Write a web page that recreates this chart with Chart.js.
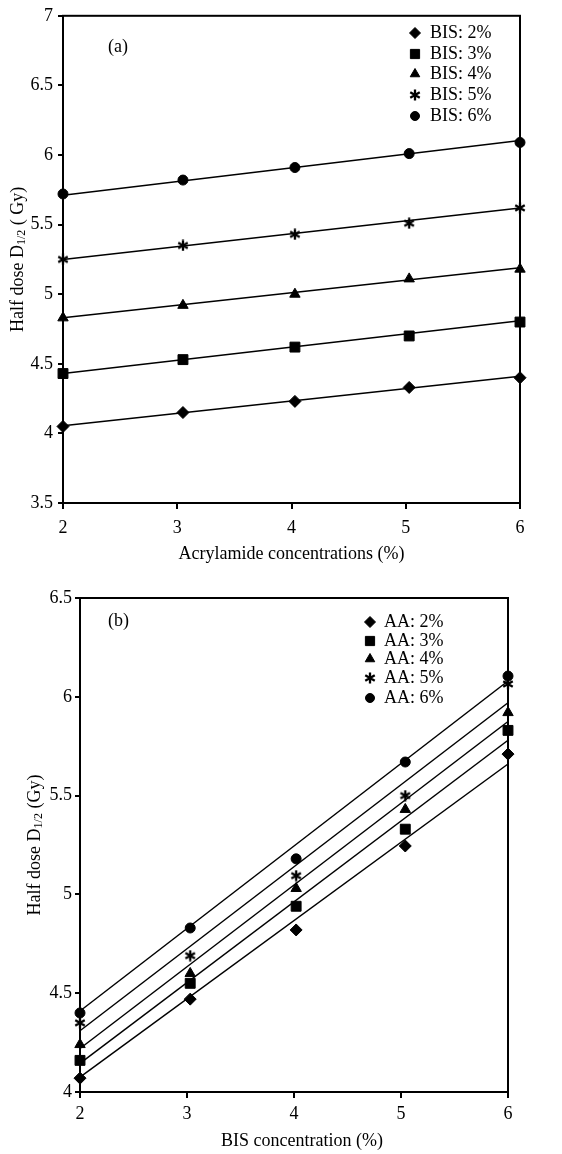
<!DOCTYPE html>
<html><head><meta charset="utf-8">
<script src="https://cdn.jsdelivr.net/npm/chart.js@4.4.1/dist/chart.umd.min.js"></script>
<style>
html,body{margin:0;padding:0;background:#fff;}
#wa{position:absolute;left:0;top:0;width:562px;height:575px;}
#wb{position:absolute;left:0;top:575px;width:562px;height:579px;}
</style></head><body>
<div id="wa"><canvas id="ca"></canvas></div>
<div id="wb"><canvas id="cb"></canvas></div>
<script>
// ---------- Panel (a) data ----------
const acrylX = [2, 3.05, 4.03, 5.03, 6];
const bis2 = [4.05, 4.15, 4.23, 4.33, 4.40];
const bis3 = [4.43, 4.53, 4.62, 4.70, 4.80];
const bis4 = [4.83, 4.92, 5.00, 5.11, 5.18];
const bis5 = [5.25, 5.35, 5.43, 5.51, 5.62];
const bis6 = [5.72, 5.82, 5.91, 6.01, 6.09];
const fitXA = [2, 6];
const bis2Fit = [4.055, 4.41];
const bis3Fit = [4.43, 4.81];
const bis4Fit = [4.83, 5.19];
const bis5Fit = [5.25, 5.62];
const bis6Fit = [5.71, 6.105];
const labelsA = ['BIS: 2%', 'BIS: 3%', 'BIS: 4%', 'BIS: 5%', 'BIS: 6%'];
const yTicksA = [3.5, 4, 4.5, 5, 5.5, 6, 6.5, 7];
const xTicksA = [2, 3, 4, 5, 6];

// ---------- Panel (b) data ----------
const bisX = [2, 3.03, 4.02, 5.04, 6];
const aa2 = [4.07, 4.47, 4.82, 5.245, 5.71];
const aa3 = [4.16, 4.55, 4.94, 5.33, 5.83];
const aa4 = [4.24, 4.60, 5.03, 5.43, 5.92];
const aa5 = [4.35, 4.69, 5.095, 5.50, 6.065];
const aa6 = [4.40, 4.83, 5.18, 5.67, 6.105];
const fitXB = [2, 6];
const aa2Fit = [4.075, 5.66];
const aa3Fit = [4.145, 5.78];
const aa4Fit = [4.22, 5.875];
const aa5Fit = [4.31, 5.97];
const aa6Fit = [4.41, 6.08];
const labelsB = ['AA: 2%', 'AA: 3%', 'AA: 4%', 'AA: 5%', 'AA: 6%'];
const yTicksB = [4, 4.5, 5, 5.5, 6, 6.5];
const xTicksB = [2, 3, 4, 5, 6];

const FONT = 'Liberation Serif';
const FS = 18;

function makeAsterisk(size, lw) {
  const c = document.createElement('canvas');
  c.width = size; c.height = size;
  const g = c.getContext('2d');
  g.strokeStyle = '#000'; g.lineWidth = lw; g.lineCap = 'butt';
  const cx = size / 2, r = size / 2 - 0.5;
  g.beginPath();
  for (let i = 0; i < 3; i++) {
    const a = Math.PI / 2 + i * Math.PI / 3;
    g.moveTo(cx + r * Math.cos(a), cx + r * Math.sin(a));
    g.lineTo(cx - r * Math.cos(a), cx - r * Math.sin(a));
  }
  g.stroke();
  return c;
}
const ast = makeAsterisk(12, 2.3);

const styles = ['rectRot', 'rect', 'triangle', ast, 'circle'];
const radii = [6, 7, 6, 6, 5];

function drawMarker(ctx, style, x, y, r) {
  ctx.save();
  ctx.fillStyle = '#000'; ctx.strokeStyle = '#000'; ctx.lineWidth = 1;
  ctx.beginPath();
  if (style === 'rectRot') {
    ctx.moveTo(x, y - r); ctx.lineTo(x + r, y); ctx.lineTo(x, y + r); ctx.lineTo(x - r, y); ctx.closePath();
  } else if (style === 'rect') {
    const s = r * Math.SQRT1_2; ctx.rect(x - s, y - s, 2 * s, 2 * s);
  } else if (style === 'triangle') {
    ctx.moveTo(x, y - r); ctx.lineTo(x + r * 0.866, y + r / 2); ctx.lineTo(x - r * 0.866, y + r / 2); ctx.closePath();
  } else if (style === 'circle') {
    ctx.arc(x, y, r, 0, Math.PI * 2);
  } else {
    ctx.drawImage(style, x - style.width / 2, y - style.height / 2);
    ctx.restore(); return;
  }
  ctx.fill(); ctx.stroke();
  ctx.restore();
}

function pts(xs, ys) { return xs.map((x, i) => ({ x: x, y: ys[i] })); }

function buildDatasets(xs, series, fitX, fits) {
  const ds = [];
  series.forEach((s, i) => {
    ds.push({
      data: pts(xs, s), showLine: false, pointStyle: styles[i], pointRadius: radii[i],
      pointBackgroundColor: '#000', pointBorderColor: '#000', pointBorderWidth: 1, clip: false
    });
  });
  fits.forEach(f => {
    ds.push({
      data: pts(fitX, f), showLine: true, borderColor: '#000', borderWidth: 1.5,
      pointRadius: 0, fill: false, clip: false
    });
  });
  return ds;
}

const annotPlugin = {
  id: 'annot',
  afterDraw(chart, args, o) {
    const ctx = chart.ctx, ca = chart.chartArea;
    ctx.save();
    ctx.strokeStyle = '#000'; ctx.lineWidth = 2;
    ctx.strokeRect(ca.left, ca.top, ca.right - ca.left, ca.bottom - ca.top);
    ctx.fillStyle = '#000';
    ctx.font = FS + 'px "' + FONT + '"';
    ctx.textAlign = 'left'; ctx.textBaseline = 'middle';
    ctx.fillText(o.panel.text, o.panel.x, o.panel.y);
    o.legend.labels.forEach((t, i) => {
      const y = o.legend.rows[i];
      drawMarker(ctx, styles[i], o.legend.mx, y, radii[i] - 0.5);
      ctx.fillText(t, o.legend.tx, y);
    });
    ctx.textAlign = 'center';
    ctx.fillText(o.xTitle.text, (ca.left + ca.right) / 2 + (o.xTitle.dx || 0), o.xTitle.y);
    const big = FS + 'px "' + FONT + '"', small = '12px "' + FONT + '"';
    const p = o.yTitle;
    ctx.font = big; const w1 = ctx.measureText(p.pre).width; const w3 = ctx.measureText(p.post).width;
    ctx.font = small; const w2 = ctx.measureText(p.sub).width;
    const total = w1 + w2 + w3;
    ctx.translate(p.x, (ca.top + ca.bottom) / 2);
    ctx.rotate(-Math.PI / 2);
    ctx.textAlign = 'left';
    let cx = -total / 2;
    ctx.font = big; ctx.fillText(p.pre, cx, 0); cx += w1;
    ctx.font = small; ctx.fillText(p.sub, cx, 4); cx += w2;
    ctx.font = big; ctx.fillText(p.post, cx, 0);
    ctx.restore();
  }
};

function makeChart(id, cfg) {
  return new Chart(document.getElementById(id), {
    type: 'scatter',
    data: { datasets: cfg.datasets },
    options: {
      responsive: true, maintainAspectRatio: false, animation: false, devicePixelRatio: 1,
      layout: { padding: cfg.padding },
      plugins: { legend: { display: false }, tooltip: { enabled: false }, annot: cfg.annot },
      scales: {
        x: {
          type: 'linear', min: cfg.xTicks[0], max: cfg.xTicks[cfg.xTicks.length - 1],
          afterBuildTicks: s => { s.ticks = cfg.xTicks.map(v => ({ value: v })); },
          afterFit: s => { s.height = cfg.xH; },
          grid: { display: true, drawOnChartArea: false, drawTicks: true, tickLength: 6, color: '#000', lineWidth: 2 },
          border: { display: true, color: '#000', width: 2 },
          ticks: { color: '#000', font: { family: FONT, size: FS }, padding: cfg.xPad, maxRotation: 0,
                   callback: v => String(Number(v)) }
        },
        y: {
          type: 'linear', min: cfg.yTicks[0], max: cfg.yTicks[cfg.yTicks.length - 1],
          afterBuildTicks: s => { s.ticks = cfg.yTicks.map(v => ({ value: v })); },
          afterFit: s => { s.width = cfg.yW; },
          grid: { display: true, drawOnChartArea: false, drawTicks: true, tickLength: 5, color: '#000', lineWidth: 2 },
          border: { display: true, color: '#000', width: 2 },
          ticks: { color: '#000', font: { family: FONT, size: FS }, padding: cfg.yPad,
                   callback: v => String(Number(v)) }
        }
      }
    },
    plugins: [annotPlugin]
  });
}

makeChart('ca', {
  datasets: buildDatasets(acrylX, [bis2, bis3, bis4, bis5, bis6], fitXA, [bis2Fit, bis3Fit, bis4Fit, bis5Fit, bis6Fit]),
  padding: { left: 0, top: 14, right: 42, bottom: 0 },
  xTicks: xTicksA, yTicks: yTicksA, xH: 72, yW: 63, xPad: 8, yPad: 5,
  annot: {
    panel: { text: '(a)', x: 108, y: 47 },
    legend: { labels: labelsA, mx: 415, tx: 430, rows: [33, 54, 74, 95, 116] },
    xTitle: { text: 'Acrylamide concentrations (%)', y: 554 },
    yTitle: { pre: 'Half dose D', sub: '1/2', post: ' ( Gy)', x: 18 }
  }
});

makeChart('cb', {
  datasets: buildDatasets(bisX, [aa2, aa3, aa4, aa5, aa6], fitXB, [aa2Fit, aa3Fit, aa4Fit, aa5Fit, aa6Fit]),
  padding: { left: 0, top: 23, right: 54, bottom: 0 },
  xTicks: xTicksB, yTicks: yTicksB, xH: 62, yW: 80, xPad: 5, yPad: 3,
  annot: {
    panel: { text: '(b)', x: 108, y: 46 },
    legend: { labels: labelsB, mx: 370, tx: 384, rows: [47, 66, 84, 103, 123] },
    xTitle: { text: 'BIS concentration (%)', y: 566, dx: 8 },
    yTitle: { pre: 'Half dose D', sub: '1/2', post: ' (Gy)', x: 35 }
  }
});
</script>
</body></html>
